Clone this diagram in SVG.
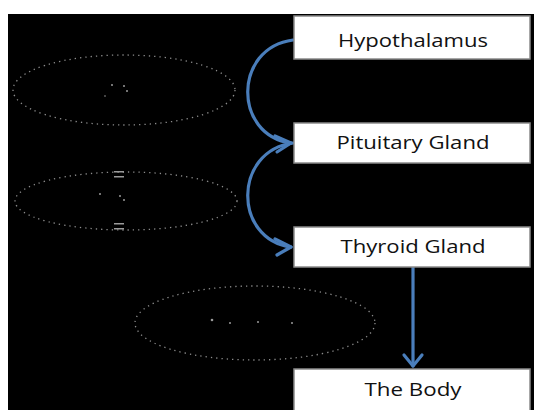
<svg xmlns="http://www.w3.org/2000/svg" width="534" height="410" viewBox="0 0 534 410">
<style>
.box{fill:#fff;stroke:#8a8a8a;stroke-width:1.5}
.lbl{font-family:"Open Sans","Liberation Sans",sans-serif;font-size:18px;fill:#111;text-anchor:middle}
.con{fill:none;stroke:#4a7ebb;stroke-width:3.2;stroke-linecap:round;stroke-linejoin:round}
.dots{fill:none;stroke:#8c8c8c;stroke-width:1.3;stroke-dasharray:1.3 4}
.speck{fill:#9a9a9a}
</style>
<rect x="0" y="0" width="534" height="410" fill="#fff"/>
<rect x="8" y="14" width="526" height="396" fill="#000"/>
<g id="decor">
<ellipse class="dots" cx="124" cy="90" rx="111" ry="35"/>
<ellipse class="dots" cx="126" cy="201" rx="111" ry="29"/>
<ellipse class="dots" cx="255" cy="323" rx="120" ry="37"/>
<circle class="speck" cx="112" cy="85" r="1"/><circle class="speck" cx="124" cy="86" r="1"/><circle class="speck" cx="127" cy="91" r="1"/><circle class="speck" cx="105" cy="96" r="0.8"/>
<rect class="speck" x="114" y="171" width="10" height="1.5"/><rect class="speck" x="114" y="176" width="10" height="1.5"/>
<rect class="speck" x="114" y="223" width="10" height="1.5"/><rect class="speck" x="114" y="228" width="10" height="1.5"/>
<circle class="speck" cx="120" cy="196" r="1"/><circle class="speck" cx="124" cy="200" r="1"/><circle class="speck" cx="100" cy="194" r="1"/>
<circle class="speck" cx="212" cy="320" r="1.3"/><circle class="speck" cx="230" cy="323" r="1"/><circle class="speck" cx="258" cy="322" r="1"/><circle class="speck" cx="292" cy="323" r="1"/>
</g>
<g id="connectors">
<path class="con" d="M293,40 C233,48 233,135 291,143"/>
<path class="con" d="M275,136 L291,143 L277,152"/>
<path class="con" d="M293,143 C233,151 233,239 291,247"/>
<path class="con" d="M275,239 L291,247 L277,255"/>
<path class="con" d="M413,267 L413,366"/>
<path class="con" d="M404,355 L413,366 L422,355"/>
</g>
<g id="hypothalamus"><rect class="box" x="294" y="16" width="236" height="43"/><text class="lbl" x="413" y="47" textLength="150" lengthAdjust="spacingAndGlyphs">Hypothalamus</text></g>
<g id="pituitary"><rect class="box" x="294" y="123" width="236" height="40"/><text class="lbl" x="413" y="149" textLength="153" lengthAdjust="spacingAndGlyphs">Pituitary Gland</text></g>
<g id="thyroid"><rect class="box" x="294" y="227" width="236" height="40"/><text class="lbl" x="413" y="253" textLength="145" lengthAdjust="spacingAndGlyphs">Thyroid Gland</text></g>
<g id="body"><rect class="box" x="294" y="369" width="236" height="45"/><text class="lbl" x="413" y="396" textLength="97" lengthAdjust="spacingAndGlyphs">The Body</text></g>
</svg>
